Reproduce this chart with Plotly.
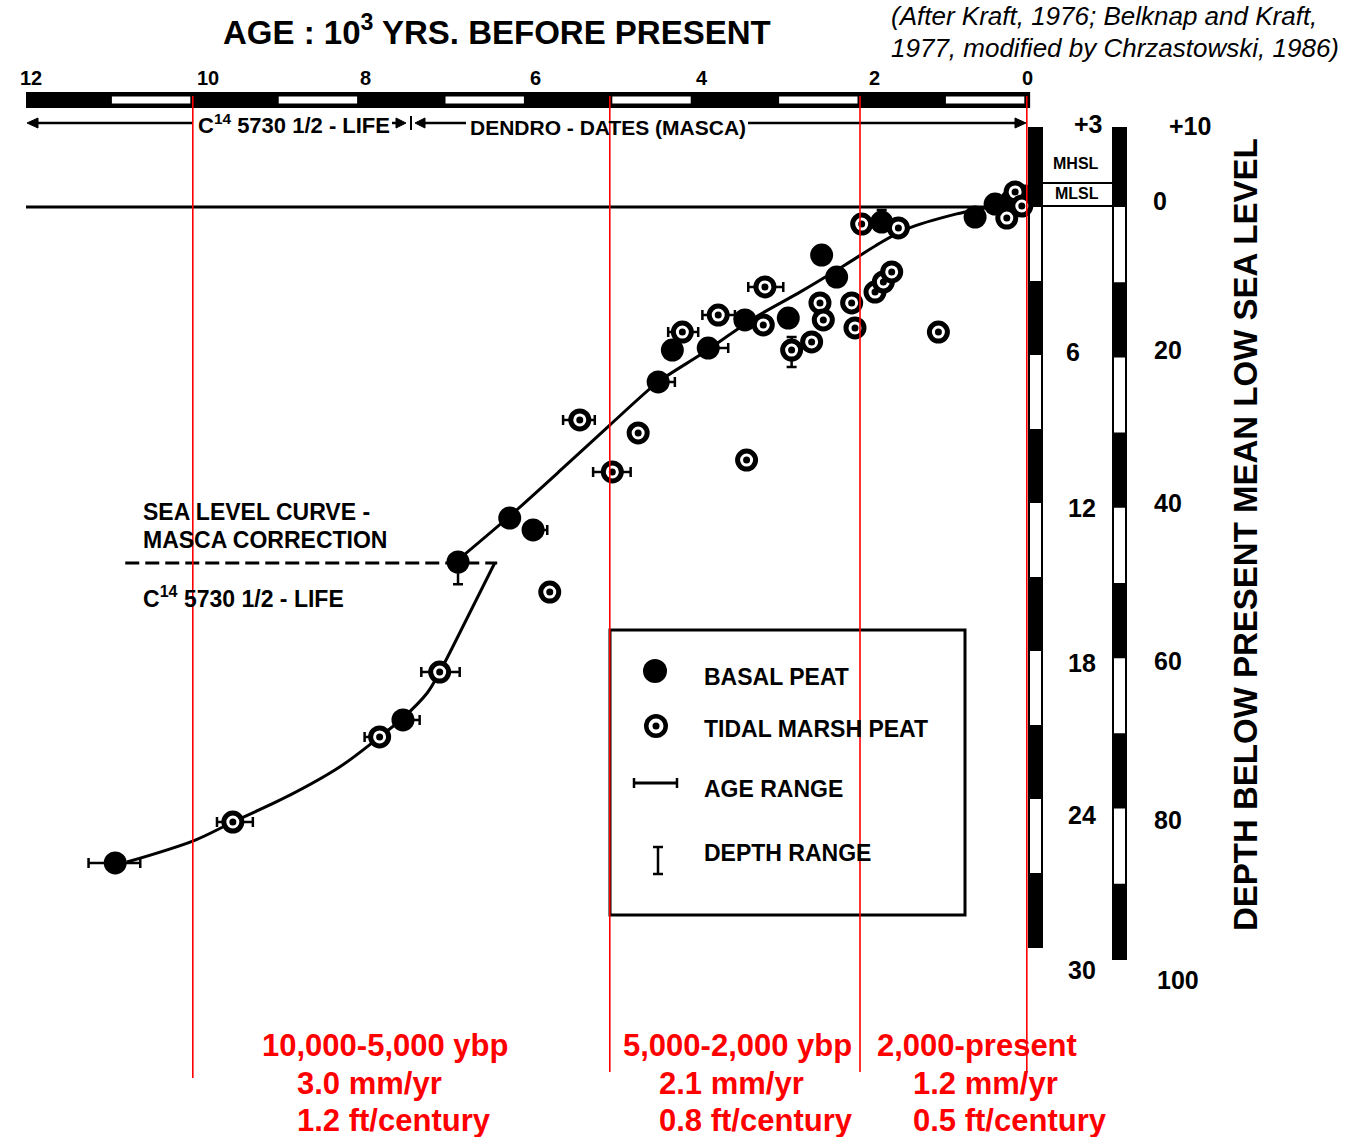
import plotly.graph_objects as go

W, H = 1357, 1137
FONT = "Liberation Sans, Arial, Helvetica, sans-serif"

# ---------------- data ----------------
AGE_TICKS = [12, 10, 8, 6, 4, 2, 0]                # 10^3 yr before present
AGE_TICK_TEXT = ["12", "10", "8", "6", "4", "2", "0"]

DEPTH_M_TICKS = [-3, 6, 12, 18, 24, 30]            # metres below mean low sea level
DEPTH_M_TEXT = ["+3", "6", "12", "18", "24", "30"]
DEPTH_FT_TICKS = [-10, 0, 20, 40, 60, 80, 100]     # feet below mean low sea level
DEPTH_FT_TEXT = ["+10", "0", "20", "40", "60", "80", "100"]
FT_TO_M = 0.3048

# Basal peat samples
BASAL_AGE = [10.93, 7.48, 6.82, 6.20, 5.92, 4.42, 4.25, 3.82, 3.38, 2.86, 2.46, 2.28, 1.74, 0.62, 0.38, 0.18, 0.02]
BASAL_DEPTH = [26.59, 20.79, 14.39, 12.61, 13.09, 7.09, 5.80, 5.72, 4.58, 4.50, 1.95, 2.84, 0.61, 0.41, -0.12, -0.28, -0.45]
BASAL_AGE_OLDER = [0.32, 0, 0, 0, 0, 0, 0, 0, 0, 0, 0, 0, 0, 0, 0, 0, 0]
BASAL_AGE_YOUNGER = [0.30, 0.20, 0, 0, 0.17, 0.20, 0, 0.24, 0, 0, 0, 0, 0, 0, 0, 0, 0]
BASAL_DEPTH_SHALLOWER = [0, 0, 0, 0, 0, 0, 0, 0, 0, 0, 0, 0, 0.49, 0, 0, 0, 0]
BASAL_DEPTH_DEEPER = [0, 0, 0.90, 0, 0, 0, 0, 0, 0, 0, 0, 0, 0, 0, 0, 0, 0]

# Tidal marsh peat samples
TIDAL_AGE = [9.52, 7.76, 7.04, 5.72, 5.36, 4.97, 4.66, 3.36, 4.13, 3.70, 3.14, 3.16, 2.82, 2.58,
             2.48, 2.44, 2.10, 2.06, 1.82, 1.72, 1.62, 1.06, 1.98, 1.54, 0.24, 0.14, 0.06]
TIDAL_DEPTH = [24.93, 21.48, 18.85, 15.61, 8.63, 10.74, 9.16, 10.26, 5.07, 4.38, 3.24, 4.78, 5.80, 5.47,
               3.89, 4.58, 3.89, 4.90, 3.45, 3.04, 2.63, 5.07, 0.69, 0.85, 0.45, -0.61, -0.04]
TIDAL_AGE_OLDER = [0.19, 0.18, 0.22, 0, 0.20, 0.23, 0, 0, 0.17, 0.19, 0.20, 0, 0, 0,
                   0, 0, 0, 0, 0, 0, 0, 0, 0, 0, 0, 0, 0]
TIDAL_AGE_YOUNGER = [0.24, 0, 0.24, 0, 0.18, 0.22, 0, 0, 0.19, 0.20, 0.22, 0, 0, 0,
                     0, 0, 0, 0, 0, 0, 0, 0, 0, 0, 0, 0, 0]
TIDAL_DEPTH_SHALLOWER = [0, 0, 0, 0, 0, 0, 0, 0, 0, 0, 0, 0, 0.53, 0,
                         0, 0, 0, 0, 0, 0, 0, 0, 0, 0, 0, 0, 0]
TIDAL_DEPTH_DEEPER = [0, 0, 0, 0, 0, 0, 0, 0, 0, 0, 0, 0, 0.69, 0,
                      0, 0, 0, 0, 0, 0, 0, 0, 0, 0, 0, 0, 0]

# Sea level curve - MASCA correction (upper) and C14 half-life curve (lower)
MASCA_AGE = [6.82, 6.20, 5.60, 5.00, 4.42, 3.92, 3.23, 2.72, 2.18, 1.76, 1.44, 0.84, 0.32, 0.00]
MASCA_DEPTH = [14.31, 12.53, 10.70, 8.84, 7.09, 6.00, 4.42, 3.45, 2.35, 1.46, 0.89, 0.28, -0.08, -0.32]
C14_AGE = [10.79, 9.97, 9.52, 8.83, 8.24, 7.76, 7.48, 7.19, 7.04, 6.71, 6.38]
C14_DEPTH = [26.55, 25.66, 24.93, 23.83, 22.70, 21.48, 20.71, 19.70, 18.85, 16.66, 14.43]
DIVIDE_AGE = [10.81, 6.35]
DIVIDE_DEPTH = [14.43, 14.43]

# Rate periods
BOUNDARIES = [10, 5, 2, 0]
PERIODS = ["10,000-5,000 ybp", "5,000-2,000 ybp", "2,000-present"]
RATE_MM_YR = [3.0, 2.1, 1.2]
RATE_FT_CENTURY = [1.2, 0.8, 0.5]

# ---------------- helpers (layout positions) ----------------
def PX(x):
    return x / W


def PY(y):
    return 1 - y / H


def txt(x, y, s, size, color="black", anchor="left", weight="bold", style="normal", **kw):
    return dict(x=PX(x), y=PY(y), xref="paper", yref="paper", text=s, showarrow=False,
                xanchor=anchor, yanchor="middle",
                font=dict(family=FONT, size=size, color=color, weight=weight, style=style), **kw)


fig = go.Figure()

# curves
fig.add_trace(go.Scatter(x=C14_AGE, y=C14_DEPTH, mode="lines",
                         line=dict(color="black", width=3, shape="spline", smoothing=1.0)))
fig.add_trace(go.Scatter(x=MASCA_AGE, y=MASCA_DEPTH, mode="lines",
                         line=dict(color="black", width=3, shape="spline", smoothing=0.7)))
fig.add_trace(go.Scatter(x=DIVIDE_AGE, y=DIVIDE_DEPTH, mode="lines",
                         line=dict(color="black", width=3, dash="14px,6px")))

# age / depth ranges
for ages, depths, older, younger, shal, deep in [
    (BASAL_AGE, BASAL_DEPTH, BASAL_AGE_OLDER, BASAL_AGE_YOUNGER, BASAL_DEPTH_SHALLOWER, BASAL_DEPTH_DEEPER),
    (TIDAL_AGE, TIDAL_DEPTH, TIDAL_AGE_OLDER, TIDAL_AGE_YOUNGER, TIDAL_DEPTH_SHALLOWER, TIDAL_DEPTH_DEEPER),
]:
    fig.add_trace(go.Scatter(
        x=ages, y=depths, mode="markers", marker=dict(size=2, color="rgba(0,0,0,0)"),
        error_x=dict(type="data", symmetric=False, array=older, arrayminus=younger,
                     color="black", thickness=2.5, width=5),
        error_y=dict(type="data", symmetric=False, array=deep, arrayminus=shal,
                     color="black", thickness=2.5, width=5),
    ))

# markers
fig.add_trace(go.Scatter(x=BASAL_AGE, y=BASAL_DEPTH, mode="markers",
                         marker=dict(size=23, color="black", line=dict(width=0))))
fig.add_trace(go.Scatter(x=TIDAL_AGE, y=TIDAL_DEPTH, mode="markers",
                         marker=dict(size=18, color="white", line=dict(color="black", width=5))))
fig.add_trace(go.Scatter(x=TIDAL_AGE, y=TIDAL_DEPTH, mode="markers",
                         marker=dict(size=7, color="black", line=dict(width=0))))

shapes = []
# top time bar
shapes.append(dict(type="rect", xref="x", yref="paper", x0=AGE_TICKS[0], x1=AGE_TICKS[-1] - 0.04,
                   y0=PY(108), y1=PY(92), fillcolor="black", line=dict(width=0), layer="below"))
for a in range(AGE_TICKS[0] - 1, AGE_TICKS[-1], -2):
    shapes.append(dict(type="rect", xref="x", yref="paper", x0=a - 0.03, x1=a - 1 + 0.03,
                       y0=PY(103.5), y1=PY(96.5), fillcolor="white", line=dict(width=0), layer="below"))

# present sea level line
shapes.append(dict(type="line", xref="x", yref="y", x0=AGE_TICKS[0], x1=AGE_TICKS[-1] - 0.04,
                   y0=0, y1=0, line=dict(color="black", width=3), layer="below"))

# metre scale bar
M_TOP = -3.2
shapes.append(dict(type="rect", xref="paper", yref="y", x0=PX(1029), x1=PX(1042), y0=M_TOP, y1=30,
                   fillcolor="white", line=dict(color="black", width=2), layer="below"))
m_black = [(M_TOP, 0)] + [(3 + 6 * k, 6 + 6 * k) for k in range(5)]
for a, b in m_black:
    shapes.append(dict(type="rect", xref="paper", yref="y", x0=PX(1029), x1=PX(1042), y0=a, y1=b,
                       fillcolor="black", line=dict(width=0), layer="below"))
# foot scale bar
F_TOP = -10.5
shapes.append(dict(type="rect", xref="paper", yref="y", x0=PX(1113), x1=PX(1126),
                   y0=F_TOP * FT_TO_M, y1=100 * FT_TO_M,
                   fillcolor="white", line=dict(color="black", width=2), layer="below"))
f_black = [(F_TOP, 0)] + [(10 + 20 * k, 20 + 20 * k) for k in range(5)]
for a, b in f_black:
    shapes.append(dict(type="rect", xref="paper", yref="y", x0=PX(1113), x1=PX(1126),
                       y0=a * FT_TO_M, y1=b * FT_TO_M,
                       fillcolor="black", line=dict(width=0), layer="below"))
# MHSL / MLSL lines
for yy in (183, 206):
    shapes.append(dict(type="line", xref="paper", yref="paper", x0=PX(1042), x1=PX(1113),
                       y0=PY(yy), y1=PY(yy), line=dict(color="black", width=2)))


def seg(x0, y0, x1, y1, w=3):
    return dict(type="line", xref="paper", yref="paper", x0=PX(x0), x1=PX(x1), y0=PY(y0), y1=PY(y1),
                line=dict(color="black", width=w))


def tri(tip_x, tip_y, direction, length=11, half=5):
    bx = tip_x - direction * length
    path = (f"M {PX(tip_x)} {PY(tip_y)} L {PX(bx)} {PY(tip_y - half)} "
            f"L {PX(bx)} {PY(tip_y + half)} Z")
    return dict(type="path", xref="paper", yref="paper", path=path,
                fillcolor="black", line=dict(color="black", width=1))


# arrow row (C14 half-life / dendro-dates)
ARROW_Y = 123
shapes += [seg(36, ARROW_Y, 192, ARROW_Y, 2.5), tri(27, ARROW_Y, -1)]
shapes += [seg(392, ARROW_Y, 398, ARROW_Y, 2.5), tri(406, ARROW_Y, 1, 10, 5)]
shapes += [seg(411, 116, 411, 130, 2)]
shapes += [seg(424, ARROW_Y, 466, ARROW_Y, 2.5), tri(415, ARROW_Y, -1, 10, 5)]
shapes += [seg(748, ARROW_Y, 1016, ARROW_Y, 2.5), tri(1026, ARROW_Y, 1)]

# legend box and symbols
shapes.append(dict(type="rect", xref="paper", yref="paper", x0=PX(610), x1=PX(965),
                   y0=PY(915), y1=PY(630), line=dict(color="black", width=3), fillcolor="rgba(0,0,0,0)"))


def circ(cx, cy, r, color):
    return dict(type="circle", xref="paper", yref="paper", x0=PX(cx - r), x1=PX(cx + r),
                y0=PY(cy + r), y1=PY(cy - r), fillcolor=color, line=dict(width=0))


shapes.append(circ(655, 671, 12, "black"))
shapes.append(circ(656, 726, 12, "black"))
shapes.append(circ(656, 726, 7.5, "white"))
shapes.append(circ(656, 726, 3.5, "black"))
shapes += [seg(633, 783, 678, 783, 3), seg(634, 778, 634, 788, 2.5), seg(677, 778, 677, 788, 2.5)]
shapes += [seg(658, 847, 658, 874, 2.5), seg(653, 847, 663, 847, 2.5), seg(653, 874, 663, 874, 2.5)]

# red period boundaries
red_bottom = [1078, 1072, 1072, 1072]
for a, yb in zip(BOUNDARIES, red_bottom):
    shapes.append(dict(type="line", xref="x", yref="paper", x0=a, x1=a, y0=PY(yb), y1=PY(96),
                       line=dict(color="#ff0000", width=1.6), layer="above"))

ann = []
# title & citation
ann.append(txt(497, 30, "AGE : 10<sup>3</sup> YRS. BEFORE PRESENT", 33, anchor="center"))
ann.append(txt(889, 16, "(After Kraft, 1976; Belknap and Kraft,", 26, weight="normal", style="italic"))
ann.append(txt(889, 48, "1977, modified by Chrzastowski, 1986)", 26, weight="normal", style="italic"))

# top age tick labels
tick_dx = [5, 15, 6, 9, 9, 14, 1]
for v, t, dx in zip(AGE_TICKS, AGE_TICK_TEXT, tick_dx):
    ann.append(dict(x=v, xref="x", y=PY(78), yref="paper", text=t, showarrow=False, xshift=dx,
                    xanchor="center", yanchor="middle",
                    font=dict(family=FONT, size=20, color="black", weight="bold")))

# depth labels (metres)
m_cx = [1088, 1073, 1082, 1082, 1082, 1082]
m_dy = [9, 3, -5, -12, -16, -23]
for v, t, cx, dy in zip(DEPTH_M_TICKS, DEPTH_M_TEXT, m_cx, m_dy):
    ann.append(dict(x=PX(cx), xref="paper", y=v, yref="y", yshift=dy, text=t, showarrow=False,
                    xanchor="center", yanchor="middle",
                    font=dict(family=FONT, size=25, color="black", weight="bold")))
# depth labels (feet)
f_cx = [1190, 1160, 1168, 1168, 1168, 1168, 1178]
f_dy = [6, 6, 7, 5, -3, -11, -21]
for v, t, cx, dy in zip(DEPTH_FT_TICKS, DEPTH_FT_TEXT, f_cx, f_dy):
    ann.append(dict(x=PX(cx), xref="paper", y=v * FT_TO_M, yref="y", yshift=dy, text=t, showarrow=False,
                    xanchor="center", yanchor="middle",
                    font=dict(family=FONT, size=25, color="black", weight="bold")))

ann.append(txt(1076, 163, "MHSL", 16, anchor="center"))
ann.append(txt(1077, 194, "MLSL", 16, anchor="center"))
ann.append(dict(x=PX(1245), y=PY(535), xref="paper", yref="paper", text="DEPTH BELOW PRESENT MEAN LOW SEA LEVEL",
                showarrow=False, textangle=-90, xanchor="center", yanchor="middle",
                font=dict(family=FONT, size=33, color="black", weight="bold")))

# arrow row texts
ann.append(txt(196, 124, "C<sup>14</sup> 5730 1/2 - LIFE", 22))
ann.append(txt(468, 127, "DENDRO - DATES (MASCA)", 21))

# curve labels
ann.append(txt(141, 512, "SEA LEVEL CURVE -", 23))
ann.append(txt(141, 540, "MASCA CORRECTION", 23))
ann.append(txt(141, 597, "C<sup>14</sup> 5730 1/2 - LIFE", 23))

# legend texts
for yy, t in [(677, "BASAL PEAT"), (729, "TIDAL MARSH PEAT"), (789, "AGE RANGE"), (853, "DEPTH RANGE")]:
    ann.append(txt(702, yy, t, 23))

# red rate annotations
col_x = [(260, 295), (621, 657), (875, 911)]
for (x1, x2), p, mm, ft in zip(col_x, PERIODS, RATE_MM_YR, RATE_FT_CENTURY):
    ann.append(txt(x1, 1045, p, 31, color="#ff0000"))
    ann.append(txt(x2, 1083, f"{mm:.1f} mm/yr", 31, color="#ff0000"))
    ann.append(txt(x2, 1120, f"{ft:.1f} ft/century", 31, color="#ff0000"))

fig.update_layout(
    width=W, height=H, autosize=False,
    margin=dict(l=0, r=0, t=0, b=0, pad=0),
    paper_bgcolor="white", plot_bgcolor="white",
    showlegend=False,
    xaxis=dict(range=[12.3118, -3.9592], visible=False, domain=[0, 1], fixedrange=True),
    yaxis=dict(range=[37.698, -8.391], visible=False, domain=[0, 1], fixedrange=True),
    shapes=shapes, annotations=ann,
)

fig.write_html("out.html", config={"displayModeBar": False},
               post_script="document.body.style.margin='0';document.body.style.overflow='hidden';")
